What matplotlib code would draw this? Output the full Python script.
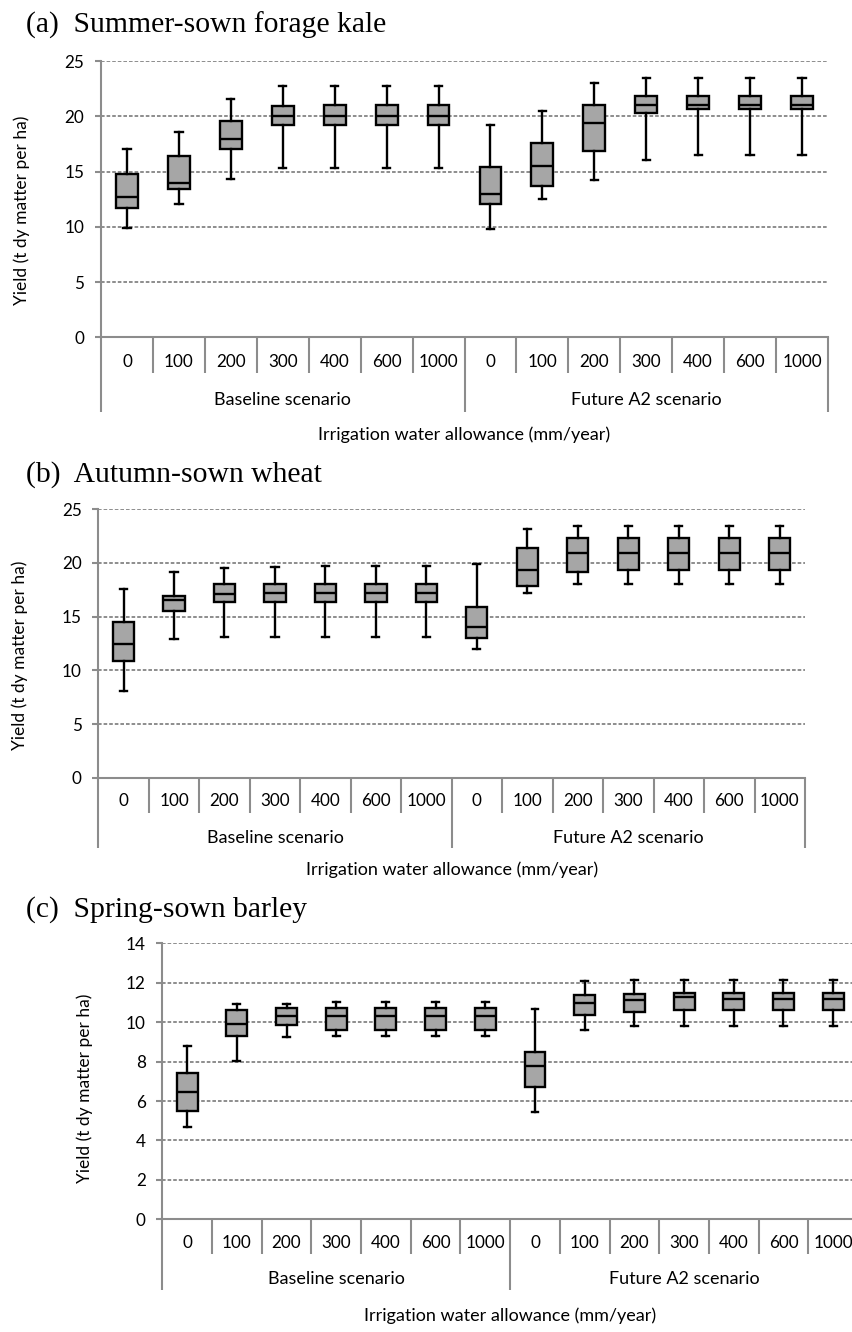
import matplotlib
matplotlib.use("Agg")
import matplotlib.pyplot as plt
import matplotlib.transforms as mtransforms

plt.rcParams["font.family"] = ["Lato", "DejaVu Sans"]

allowances = ["0", "100", "200", "300", "400", "600", "1000"]
scenarios = ["Baseline scenario", "Future A2 scenario"]

# yield in t dry matter per ha; first 7 = baseline, last 7 = future A2
kale_low = [9.9, 12.1, 14.3, 15.3, 15.3, 15.3, 15.3, 9.8, 12.5, 14.2, 16.0, 16.5, 16.5, 16.5]
kale_q1 = [11.7, 13.4, 17.0, 19.2, 19.2, 19.2, 19.2, 12.1, 13.7, 16.9, 20.3, 20.7, 20.7, 20.7]
kale_med = [12.7, 14.0, 17.9, 20.0, 20.0, 20.0, 20.0, 13.0, 15.5, 19.4, 21.05, 21.0, 21.0, 21.0]
kale_q3 = [14.8, 16.4, 19.6, 20.9, 21.0, 21.0, 21.0, 15.4, 17.6, 21.0, 21.8, 21.8, 21.8, 21.8]
kale_high = [17.05, 18.6, 21.6, 22.7, 22.7, 22.7, 22.7, 19.25, 20.5, 23.0, 23.45, 23.45, 23.45, 23.45]

wheat_low = [8.1, 12.9, 13.1, 13.1, 13.1, 13.1, 13.1, 12.0, 17.2, 18.0, 18.0, 18.0, 18.0, 18.0]
wheat_q1 = [10.9, 15.55, 16.4, 16.4, 16.4, 16.4, 16.4, 13.0, 17.9, 19.2, 19.3, 19.3, 19.3, 19.3]
wheat_med = [12.5, 16.55, 17.15, 17.25, 17.25, 17.25, 17.25, 14.05, 19.3, 20.9, 20.9, 20.9, 20.9, 20.9]
wheat_q3 = [14.5, 16.95, 18.0, 18.0, 18.0, 18.0, 18.0, 15.9, 21.35, 22.3, 22.3, 22.3, 22.3, 22.3]
wheat_high = [17.55, 19.15, 19.5, 19.6, 19.7, 19.7, 19.7, 19.9, 23.15, 23.4, 23.4, 23.4, 23.4, 23.4]

barley_low = [4.7, 8.05, 9.25, 9.3, 9.3, 9.3, 9.3, 5.45, 9.6, 9.8, 9.8, 9.8, 9.8, 9.8]
barley_q1 = [5.5, 9.3, 9.85, 9.6, 9.6, 9.6, 9.6, 6.7, 10.35, 10.5, 10.6, 10.6, 10.6, 10.6]
barley_med = [6.45, 9.9, 10.3, 10.3, 10.3, 10.3, 10.3, 7.8, 10.95, 11.1, 11.3, 11.15, 11.15, 11.15]
barley_q3 = [7.4, 10.6, 10.7, 10.7, 10.7, 10.7, 10.7, 8.5, 11.4, 11.45, 11.5, 11.5, 11.5, 11.5]
barley_high = [8.8, 10.9, 10.9, 11.0, 11.0, 11.0, 11.0, 10.65, 12.1, 12.15, 12.15, 12.15, 12.15, 12.15]

W, H = 852, 1332
GREY = "#8c8c8c"
NUM_SIZE = 12.3
TXT_SIZE = 13
fig = plt.figure(figsize=(W / 100, H / 100), dpi=100)


def draw_panel(box, title, title_base, lows, q1s, meds, q3s, highs, ymax, ystep,
               offs, ylab_xy):
    # box = (left, right, y of 0, y of ymax) in pixels from top-left
    left, right, y0, ytop = box
    ax = fig.add_axes([left / W, 1 - y0 / H, (right - left) / W, (y0 - ytop) / H])
    n = len(meds)
    stats = []
    for i in range(n):
        stats.append(dict(whislo=lows[i], q1=q1s[i], med=meds[i], q3=q3s[i],
                          whishi=highs[i], fliers=[]))
    lw = 1.7
    ax.bxp(stats, positions=range(n), widths=0.42, capwidths=0.14,
           patch_artist=True, showfliers=False,
           boxprops=dict(facecolor="#a6a6a6", edgecolor="black", linewidth=lw),
           medianprops=dict(color="black", linewidth=lw),
           whiskerprops=dict(color="black", linewidth=lw),
           capprops=dict(color="black", linewidth=lw))
    ax.set_xlim(-0.5, n - 0.5)
    ax.set_ylim(0, ymax)
    ax.set_yticks(range(0, ymax + 1, ystep))
    ax.set_xticks([])
    ax.yaxis.grid(True, linestyle=(0, (2.0, 1.1)), color="#858585", linewidth=1.3)
    ax.set_axisbelow(True)
    for s in ["top", "right"]:
        ax.spines[s].set_visible(False)
    for s in ["left", "bottom"]:
        ax.spines[s].set_color(GREY)
        ax.spines[s].set_linewidth(1.5)
    ax.tick_params(axis="y", length=4.0, width=1.5, color=GREY, pad=8.0,
                   labelsize=NUM_SIZE)

    lab_off, short_off, long_off, grp_off, xl_off = offs
    base = mtransforms.blended_transform_factory(ax.transData, ax.transAxes)
    xfig = mtransforms.blended_transform_factory(ax.transData, fig.transFigure)

    def below(px):
        return base + mtransforms.ScaledTranslation(0, -px / 100, fig.dpi_scale_trans)

    # category labels and separators under the axis
    for i in range(n):
        ax.text(i, 0, allowances[i % len(allowances)], transform=below(lab_off),
                ha="center", va="center", fontsize=NUM_SIZE, clip_on=False)
    per = len(allowances)
    for k in range(n + 1):
        x = k - 0.5
        off = long_off if k % per == 0 else short_off
        ax.plot([x, x], [1 - y0 / H, 1 - (y0 + off) / H], transform=xfig,
                color=GREY, lw=1.5, clip_on=False, solid_capstyle="butt")
    for g, name in enumerate(scenarios):
        ax.text(g * per + (per - 1) / 2, 0, name, transform=below(grp_off),
                ha="center", va="center", fontsize=TXT_SIZE, clip_on=False)
    ax.text((left + right) / 2 / W, 1 - (y0 + xl_off) / H,
            "Irrigation water allowance (mm/year)", transform=fig.transFigure,
            ha="center", va="center", fontsize=TXT_SIZE)

    fig.text(ylab_xy[0] / W, 1 - ylab_xy[1] / H, "Yield (t dy matter per ha)",
             rotation=90, ha="center", va="center", fontsize=12.5)
    fig.text(26 / W, 1 - title_base / H, title, family="Liberation Serif",
             fontsize=21.3, ha="left", va="baseline")
    return ax


draw_panel((101, 828, 337.3, 61), "(a)  Summer-sown forage kale", 33,
           kale_low, kale_q1, kale_med, kale_q3, kale_high, 25, 5,
           (25, 36, 75, 63, 97), (22, 210))
draw_panel((98.3, 805, 777.7, 509.3), "(b)  Autumn-sown wheat", 481.5,
           wheat_low, wheat_q1, wheat_med, wheat_q3, wheat_high, 25, 5,
           (23, 35, 70, 60, 92), (20, 655))
draw_panel((162.3, 858, 1219.3, 943.3), "(c)  Spring-sown barley", 916.5,
           barley_low, barley_q1, barley_med, barley_q3, barley_high, 14, 2,
           (24, 35, 71, 60, 96), (85, 1088))

fig.savefig("out.png", dpi=100)
